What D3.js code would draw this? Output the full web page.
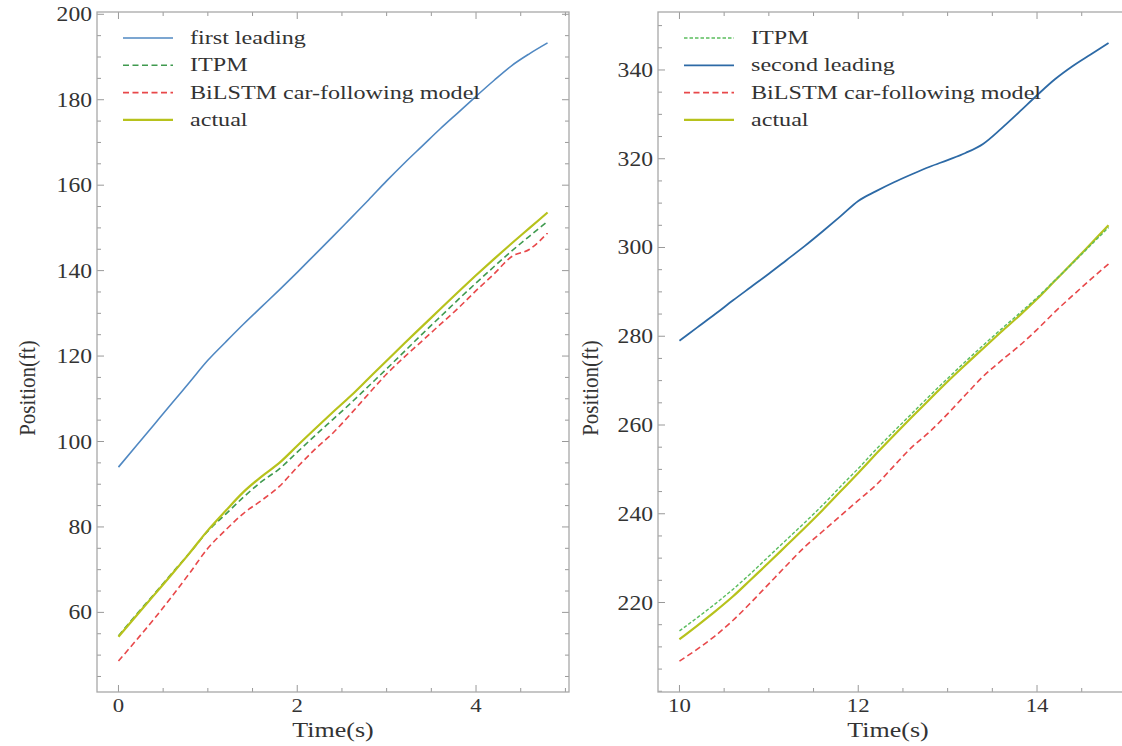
<!DOCTYPE html>
<html><head><meta charset="utf-8">
<script src="https://cdn.jsdelivr.net/npm/d3@7/dist/d3.min.js"></script>
<style>body{margin:0;background:#fff}svg{display:block}</style>
</head><body>
<svg id="chart" width="1122" height="746"></svg>
<script>
// ---------- data ----------
const timeLeft = [0,0.2,0.4,0.6,0.8,1.0,1.2,1.4,1.6,1.8,2.0,2.2,2.4,2.6,2.8,3.0,3.2,3.4,3.6,3.8,4.0,4.2,4.4,4.6,4.8];
const firstLeading = [94.0,99.0,104.0,109.0,114.0,119.0,123.3,127.5,131.5,135.5,139.6,143.8,148.0,152.3,156.6,161.0,165.2,169.2,173.2,177.0,180.8,184.5,188.0,190.8,193.3];
const itpmLeft = [54.5,59.5,64.3,69.2,74.0,79.0,83.0,87.0,90.6,93.6,97.5,101.4,105.2,109.0,113.0,117.0,121.1,125.2,129.2,133.2,137.1,140.9,144.6,148.1,151.5];
const bilstmLeft = [48.6,53.5,58.5,63.8,69.3,75.0,79.3,83.2,86.2,89.5,94.0,98.2,102.0,106.5,111.2,115.8,119.8,123.6,127.4,131.2,135.3,139.2,143.3,145.0,148.8];
const actualLeft = [54.3,59.2,64.1,69.0,74.0,79.2,83.8,88.2,91.8,95.0,99.0,103.0,106.9,110.7,114.8,118.9,123.0,127.0,131.0,135.0,138.9,142.7,146.4,150.0,153.6];

const timeRight = [10.0,10.2,10.4,10.6,10.8,11.0,11.2,11.4,11.6,11.8,12.0,12.2,12.4,12.6,12.8,13.0,13.2,13.4,13.6,13.8,14.0,14.2,14.4,14.6,14.8];
const itpmRight = [213.6,216.6,219.7,223.0,226.6,230.4,234.2,238.0,241.9,246.1,250.2,254.5,258.6,262.6,266.6,270.5,274.3,278.0,281.6,285.1,288.7,292.6,296.5,300.5,304.5];
const secondLeading = [279.0,282.0,285.0,288.1,291.1,294.1,297.2,300.3,303.6,307.0,310.5,312.7,314.7,316.5,318.2,319.7,321.3,323.4,326.8,330.5,334.3,337.9,340.9,343.5,346.1];
const bilstmRight = [206.8,209.5,212.5,216.0,220.0,224.2,228.4,232.5,236.0,239.5,243.0,246.5,250.8,255.0,258.5,262.5,266.8,271.0,274.5,277.8,281.5,285.5,289.2,292.8,296.3];
const actualRight = [211.7,214.8,218.0,221.4,225.2,229.0,232.9,236.8,240.8,245.0,249.2,253.5,257.7,261.8,265.8,269.8,273.6,277.3,281.0,284.6,288.4,292.5,296.6,300.8,305.0];

const xTicksLeft = [0,2,4];
const yTicksLeft = [60,80,100,120,140,160,180,200];
const xTicksRight = [10,12,14];
const yTicksRight = [220,240,260,280,300,320,340];

const legendLeft = ["first leading","ITPM","BiLSTM car-following model","actual"];
const legendRight = ["ITPM","second leading","BiLSTM car-following model","actual"];

// ---------- drawing ----------
const svg = d3.select("#chart");
const FONT = "'Liberation Serif','DejaVu Serif',serif";

function stretchText(g, x, y, txt, size, sx, anchor, fill){
  g.append("text")
    .attr("transform", `translate(${x},${y}) scale(${sx},1)`)
    .attr("text-anchor", anchor)
    .attr("font-family", FONT).attr("font-size", size)
    .attr("fill", fill || "#333").text(txt);
}

function panel(cfg){
  const g = svg.append("g");
  const xs = cfg.time, xr = d3.extent(xs), xm = (xr[1]-xr[0])*0.05;
  const all = cfg.series.flatMap(s => s.values), yr = d3.extent(all), ym = (yr[1]-yr[0])*0.05;
  const x = d3.scaleLinear().domain([xr[0]-xm, xr[1]+xm]).range([cfg.x0, cfg.x1]);
  const y = d3.scaleLinear().domain([yr[0]-ym, yr[1]+ym]).range([cfg.y1, cfg.y0]);

  const clipId = "clip"+cfg.id;
  g.append("clipPath").attr("id", clipId).append("rect")
    .attr("x", cfg.x0).attr("y", cfg.y0).attr("width", cfg.x1-cfg.x0).attr("height", cfg.y1-cfg.y0);

  // ticks (inward, all sides)
  const tickCol = "#999";
  const xd = x.domain(), yd = y.domain();
  const xMinor = d3.range(Math.ceil(xd[0]/0.5)*0.5, xd[1], 0.5);
  const yMinor = d3.range(Math.ceil(yd[0]/5)*5, yd[1], 5);
  const tg = g.append("g").attr("stroke", tickCol).attr("stroke-width", 1);
  xMinor.forEach(v => {
    const major = cfg.xTicks.some(t => Math.abs(t-v)<1e-6);
    const L = major ? 7 : 4;
    tg.append("line").attr("x1", x(v)).attr("x2", x(v)).attr("y1", cfg.y1).attr("y2", cfg.y1-L);
    tg.append("line").attr("x1", x(v)).attr("x2", x(v)).attr("y1", cfg.y0).attr("y2", cfg.y0+L);
  });
  yMinor.forEach(v => {
    const major = cfg.yTicks.some(t => Math.abs(t-v)<1e-6);
    const L = major ? 7 : 4;
    tg.append("line").attr("y1", y(v)).attr("y2", y(v)).attr("x1", cfg.x0).attr("x2", cfg.x0+L);
    tg.append("line").attr("y1", y(v)).attr("y2", y(v)).attr("x1", cfg.x1).attr("x2", cfg.x1-L);
  });

  // frame
  g.append("rect").attr("x", cfg.x0).attr("y", cfg.y0)
    .attr("width", cfg.x1-cfg.x0).attr("height", cfg.y1-cfg.y0)
    .attr("fill", "none").attr("stroke", "#a8a8a8").attr("stroke-width", 1.3);

  // tick labels
  cfg.xTicks.forEach(v => stretchText(g, x(v), cfg.y1+20, String(v), 19, 1.2, "middle"));
  cfg.yTicks.forEach(v => stretchText(g, cfg.x0-5, y(v)+7, String(v), 20, 1.18, "end"));

  // axis labels
  stretchText(g, (cfg.x0+cfg.x1)/2 - (cfg.id==="R"?6:0), 737, "Time(s)", 20, 1.3, "middle");
  g.append("text")
    .attr("transform", `translate(${cfg.ylabX},388) scale(1.05,1) rotate(-90)`)
    .attr("text-anchor", "middle").attr("font-family", FONT).attr("font-size", 21)
    .attr("fill", "#333").text("Position(ft)");

  // lines
  const line = d3.line().x((d,i) => x(xs[i])).y(d => y(d)).curve(d3.curveMonotoneX);
  const lg = g.append("g").attr("clip-path", `url(#${clipId})`);
  cfg.series.forEach(s => {
    lg.append("path").datum(s.values).attr("d", line)
      .attr("fill", "none").attr("stroke", s.color).attr("stroke-width", s.w)
      .attr("stroke-dasharray", s.dash || null).attr("stroke-linejoin", "round");
  });

  // legend
  cfg.legendOrder.forEach((name, i) => {
    const s = cfg.series.find(q => q.name === name);
    const yy = cfg.legY + i*27.3;
    g.append("line").attr("x1", cfg.legX).attr("x2", cfg.legX+50).attr("y1", yy).attr("y2", yy)
      .attr("stroke", s.color).attr("stroke-width", s.w).attr("stroke-dasharray", s.dash || null);
    stretchText(g, cfg.legX+67, yy+6, name, 18, 1.34, "start");
  });
}

panel({
  id: "L", x0: 97, x1: 569, y0: 12, y1: 692, ylabX: 35,
  time: timeLeft, xTicks: xTicksLeft, yTicks: yTicksLeft,
  legX: 123, legY: 38, legendOrder: legendLeft,
  series: [
    {name: "first leading", values: firstLeading, color: "#5088c2", w: 1.6},
    {name: "ITPM", values: itpmLeft, color: "#3f9a4f", w: 1.6, dash: "6,3.5"},
    {name: "BiLSTM car-following model", values: bilstmLeft, color: "#e8484a", w: 1.6, dash: "6,3.5"},
    {name: "actual", values: actualLeft, color: "#b7c21c", w: 2.2}
  ]
});

panel({
  id: "R", x0: 658, x1: 1130, y0: 12, y1: 692, ylabX: 598,
  time: timeRight, xTicks: xTicksRight, yTicks: yTicksRight,
  legX: 684, legY: 38, legendOrder: legendRight,
  series: [
    {name: "second leading", values: secondLeading, color: "#2d6aa6", w: 1.8},
    {name: "actual", values: actualRight, color: "#b7c21c", w: 2.2},
    {name: "ITPM", values: itpmRight, color: "#5bbd5e", w: 1.4, dash: "3.5,2"},
    {name: "BiLSTM car-following model", values: bilstmRight, color: "#e8484a", w: 1.6, dash: "6,3.5"}
  ]
});
</script>
</body></html>
